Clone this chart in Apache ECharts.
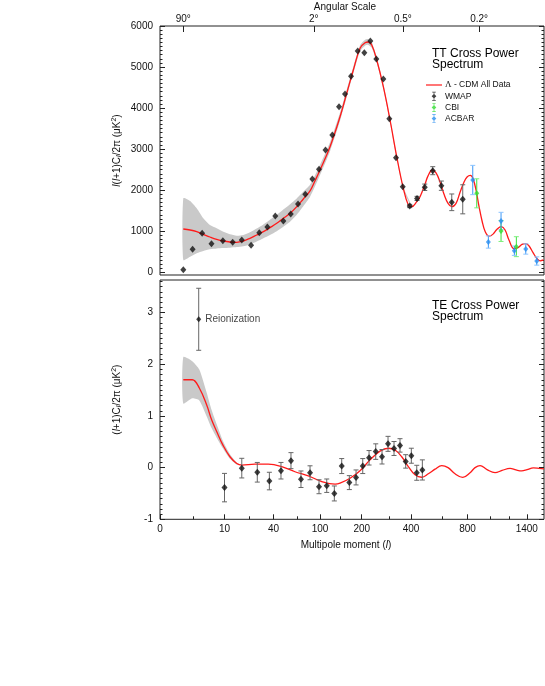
<!DOCTYPE html>
<html>
<head>
<meta charset="utf-8">
<script src="https://cdn.jsdelivr.net/npm/echarts@6/dist/echarts.min.js"></script>
<style>
    html, body { margin: 0; padding: 0; background: #fff; }
    #chart { width: 545px; height: 686px; }
</style>
</head>
<body>
<div id="chart"></div>
<script>
// ---- TT cross power spectrum ----
// WMAP binned points (multipole l, l(l+1)Cl/2pi in uK^2, error)
const ttL = [2, 3.4, 5.1, 7, 9.6, 13.4, 17.9, 23.3, 28.8, 34.9, 41.7, 49.9, 58.3, 67.4, 77.3, 87.7, 98.3, 110.6, 124.8, 139.9, 154.4, 169.9, 188.3, 208.3, 228.3, 249.6, 276.1, 300.3, 328.9, 359.5, 393.4, 433.6, 479.6, 531, 590.3, 668.3, 758]
const ttV = [60, 560, 950, 697, 770, 731, 787, 658, 965, 1104, 1371, 1250, 1420, 1664, 1900, 2273, 2509, 2979, 3345, 4034, 4343, 4775, 5391, 5350, 5635, 5196, 4709, 3742, 2792, 2085, 1615, 1800, 2071, 2475, 2110, 1705, 1778]
const ttErr = [0, 0, 0, 0, 0, 0, 0, 0, 0, 0, 0, 0, 0, 0, 0, 0, 0, 0, 0, 0, 0, 0, 0, 0, 0, 0, 0, 0, 0, 0, 40, 50, 78, 98, 113, 203, 354]
// CBI
const cbiL = [878.6, 1111, 1277.6]
const cbiV = [1924, 1006, 624]
const cbiErr = [354, 255, 243]
// ACBAR
const acbL = [843.8, 985, 1111, 1255, 1388, 1525]
const acbV = [2248, 738, 1250, 526, 568, 275]
const acbErr = [357, 150, 211, 114, 126, 101]
// Lambda-CDM model
const ttModelL = [2, 3.0, 4.1, 5.33, 6.68, 8.15, 9.71, 12.2, 15.3, 18.7, 22.6, 27.0, 31.8, 37.0, 43.1, 49.9, 57.5, 65.7, 74.5, 84.2, 91.9, 100, 119.9, 142.3, 158.7, 176.1, 195, 210.6, 221.5, 233.2, 251.1, 276.1, 303.2, 332.1, 362.3, 386.4, 403.8, 431.9, 451.1, 481.5, 500.2, 528.3, 553.1, 580.9, 609.8, 639.6, 668.3, 702.3, 735.2, 769.4, 795.6, 823.4, 846.4, 872.3, 899, 926.3, 953.8, 991.6, 1030.5, 1070.2, 1114.5, 1153.4, 1196.3, 1251.5, 1296.9, 1343.4, 1387.7, 1428, 1477.8, 1528.8, 1567.8, 1614.4]
const ttModelV = [1055, 1030, 990, 925, 860, 803, 762, 738, 731, 762, 828, 909, 990, 1087, 1193, 1315, 1437, 1598, 1786, 1981, 2230, 2492, 3060, 3790, 4361, 4928, 5457, 5593, 5610, 5537, 5172, 4522, 3710, 2816, 2046, 1639, 1598, 1720, 1842, 2150, 2350, 2492, 2420, 2200, 1900, 1680, 1600, 1680, 1950, 2200, 2320, 2360, 2280, 2000, 1600, 1250, 1000, 880, 930, 1050, 1111, 1030, 780, 576, 600, 680, 700, 640, 480, 330, 279, 300]
// cosmic variance band
const ttBandL = [2, 3.0, 4.1, 5.33, 6.68, 8.15, 9.71, 12.2, 15.3, 18.7, 22.6, 27.0, 31.8, 37.0, 43.1, 49.9, 57.5, 65.7, 74.5, 84.2, 100, 119.9, 142.3, 176.1, 195, 210.6, 221.5, 233.2, 251.1, 276.1, 303.2, 332.1, 362.3, 403.8]
const ttBandHi = [1803, 1737, 1559, 1315, 1152, 1072, 989, 926, 892, 909, 975, 1065, 1165, 1280, 1400, 1530, 1660, 1800, 1960, 2130, 2620, 3170, 3890, 5010, 5530, 5665, 5680, 5605, 5235, 4580, 3760, 2860, 2080, 1625]
const ttBandLo = [300, 380, 463, 519, 560, 580, 590, 600, 615, 635, 680, 750, 830, 910, 1000, 1110, 1230, 1400, 1610, 1840, 2370, 2950, 3690, 4850, 5385, 5520, 5540, 5470, 5110, 4465, 3660, 2775, 2012, 1571]

// ---- TE cross power spectrum ----
const teL = [10, 17.9, 27.4, 36.5, 47.4, 58.6, 71.3, 84.2, 98.3, 113.1, 129.2, 146.3, 165.4, 183.6, 203.2, 223.9, 247.4, 271, 294.9, 320.2, 346.9, 373.7, 401.6, 431.9, 464.9]
const teV = [-0.387, -0.01, -0.09, -0.26, -0.06, 0.135, -0.225, -0.1, -0.37, -0.35, -0.5, 0.03, -0.29, -0.19, 0.03, 0.19, 0.31, 0.21, 0.46, 0.37, 0.43, 0.12, 0.23, -0.1, -0.045]
const teErr = [0.275, 0.19, 0.19, 0.17, 0.16, 0.155, 0.16, 0.135, 0.135, 0.13, 0.145, 0.145, 0.135, 0.145, 0.145, 0.14, 0.15, 0.14, 0.145, 0.135, 0.13, 0.13, 0.145, 0.145, 0.195]
const reionL = [4.46]
const reionV = [2.87]
const reionErr = [0.6]
const teModelL = [2, 3.35, 4.57, 6.0, 7.05, 8.15, 9.71, 12.2, 15.3, 17.9, 25.8, 35.6, 48.2, 63.5, 81.6, 103.2, 130.8, 142.3, 167.3, 195, 227.2, 263.3, 296.2, 324.6, 354.8, 386.4, 422.2, 461.3, 502.2, 546.3, 593.1, 639.6, 694.2, 758, 820.8, 863.7, 908.1, 972.6, 1050.2, 1121.5, 1207, 1274, 1340.4, 1403.7, 1481.6, 1555, 1620]
const teModelV = [1.70, 1.70, 1.54, 1.21, 0.92, 0.70, 0.42, 0.21, 0.08, 0.05, 0.066, 0.066, 0.02, -0.08, -0.16, -0.27, -0.32, -0.30, -0.205, -0.06, 0.15, 0.32, 0.375, 0.34, 0.21, 0.02, -0.14, -0.186, -0.12, -0.03, 0.04, 0.0, -0.12, -0.19, -0.1, 0.0, 0.04, -0.04, -0.097, -0.055, -0.013, -0.045, -0.064, -0.04, -0.006, -0.015, -0.025]
const teBandL = [2, 3.35, 4.57, 6.0, 7.05, 8.15, 9.71, 12.2, 15.3, 17.9]
const teBandHi = [2.14, 2.06, 1.90, 1.45, 1.11, 0.84, 0.50, 0.26, 0.10, 0.05]
const teBandLo = [1.24, 1.34, 1.30, 0.99, 0.76, 0.58, 0.36, 0.17, 0.06, 0.05]

// ---- axis ticks ----
const lTicks = [0, 10, 40, 100, 200, 400, 800, 1400]
const lMinorTicks = [3.5, 22, 66, 142, 300, 600, 1000, 1200]
const angTicks = [90, 2, 0.5, 0.2]  // degrees, l ~ 180/theta
const L_MAX = 1620

// multipole axis warp: power law between anchor multipoles
const warpL = [0, 2, 10, 40, 100, 200, 400, 800, 1400]
const warpX = [0, 23.3, 64.5, 113.5, 160, 201.7, 251, 307.5, 366.7]
function xs(l) {
    if (l <= warpL[1]) return l / warpL[1] * warpX[1]
    let i = 1
    while (i < warpL.length - 2 && l > warpL[i + 1]) i++
    const b = Math.log(warpX[i + 1] / warpX[i]) / Math.log(warpL[i + 1] / warpL[i])
    return warpX[i] * Math.pow(l / warpL[i], b)
}
const X_MAX = xs(L_MAX)

const FONT = 'Liberation Sans'
const chart = echarts.init(document.getElementById('chart'))

//误差棒
function errorBars(color, capColor) {
    return function (params, api) {
        const e = api.value(2)
        if (!e) return null
        const x = api.value(0), y = api.value(1)
        const top = api.coord([x, y + e])
        const bot = api.coord([x, y - e])
        const st = {stroke: color, lineWidth: 1}
        const cs = {stroke: capColor || color, lineWidth: 1}
        return {
            type: 'group',
            children: [
                {type: 'line', shape: {x1: top[0], y1: top[1], x2: bot[0], y2: bot[1]}, style: st},
                {type: 'line', shape: {x1: top[0] - 2.5, y1: top[1], x2: top[0] + 2.5, y2: top[1]}, style: cs},
                {type: 'line', shape: {x1: bot[0] - 2.5, y1: bot[1], x2: bot[0] + 2.5, y2: bot[1]}, style: cs}
            ]
        }
    }
}
//灰色带
function band(L, lo, hi) {
    return function (params, api) {
        if (params.dataIndex !== 0) return null
        const pts = []
        for (let i = 0; i < L.length; i++) pts.push(api.coord([xs(L[i]), hi[i]]))
        for (let i = L.length - 1; i >= 0; i--) pts.push(api.coord([xs(L[i]), lo[i]]))
        return {type: 'polygon', shape: {points: pts, smooth: 0.2}, style: {fill: '#c9c9c9'}}
    }
}
const pts = (L, V, E) => L.map((l, i) => E ? [xs(l), V[i], E[i]] : [xs(l), V[i]])
const range = (a, b, step, div) => {
    const out = []
    for (let k = a; k <= b; k += step) out.push(k / div)
    return out
}

const hiddenX = {type: 'value', min: 0, max: X_MAX, axisLine: {show: false, onZero: false}, axisTick: {show: false}, axisLabel: {show: false}, splitLine: {show: false}}
function yAx(grid, pos, min, max, ticks, len, labels, name) {
    return {
        type: 'value', gridIndex: grid, position: pos, min: min, max: max,
        axisLine: {show: false, onZero: false}, splitLine: {show: false},
        axisTick: {show: true, inside: true, length: len, customValues: ticks, lineStyle: {color: '#222'}},
        axisLabel: labels ? {show: true, customValues: labels, margin: 7, color: '#111', fontSize: 10, fontFamily: FONT, formatter: v => String(v)} : {show: false},
        name: name || '', nameLocation: 'middle', nameGap: 37, nameMoveOverlap: false,
        nameTextStyle: {color: '#111', fontSize: 10, fontFamily: FONT, rich: {
            i: {fontStyle: 'italic', fontSize: 10, fontFamily: FONT},
            s: {fontStyle: 'italic', fontSize: 7, fontFamily: FONT, padding: [5, 0, 0, 0]},
            p: {fontSize: 7, fontFamily: FONT, padding: [0, 0, 5, 0]}
        }}
    }
}
const lX = lTicks.map(xs)
const angX = angTicks.map(d => xs(180 / d))
const ttMajor = range(0, 6000, 1000, 1)
const ttMinor = range(0, 6000, 100, 1)
const teMajor = range(-1, 3, 1, 1)
const teMinor = range(-10, 36, 1, 10)
const errIcon = 'path://M4.6,0H5.4V10H4.6Z M3,0H7V0.8H3Z M3,9.2H7V10H3Z M5,2.4L7.6,5L5,7.6L2.4,5Z'

const option = {
    animation: false,
    backgroundColor: '#fff',
    grid: [
        {left: 160, right: 1, top: 26, height: 249, show: true, borderColor: '#222', borderWidth: 1},
        {left: 160, right: 1, top: 280, height: 239.3, show: true, borderColor: '#222', borderWidth: 1}
    ],
    title: [
        {text: 'TT Cross Power\nSpectrum', left: 427, top: 43, textStyle: {fontSize: 12, fontWeight: 'normal', lineHeight: 11, color: '#000', fontFamily: FONT}},
        {text: 'TE Cross Power\nSpectrum', left: 427, top: 295, textStyle: {fontSize: 12, fontWeight: 'normal', lineHeight: 11, color: '#000', fontFamily: FONT}}
    ],
    legend: {
        orient: 'vertical', left: 426, top: 80.5, padding: 0, itemWidth: 16, itemHeight: 9, itemGap: 2.2,
        data: [
            {name: 'Λ - CDM All Data', icon: 'path://M0,4.4H16V5.6H0Z'},
            {name: 'WMAP', icon: errIcon},
            {name: 'CBI', icon: errIcon},
            {name: 'ACBAR', icon: errIcon}
        ],
        formatter: n => n.charAt(0) === 'Λ' ? '{g|Λ}' + n.slice(1) : n,
        textStyle: {fontSize: 8.5, color: '#111', fontFamily: FONT, padding: [0, 0, 0, -2],
            rich: {g: {fontFamily: 'Liberation Serif', fontSize: 9}}}
    },
    xAxis: [
        Object.assign({}, hiddenX, {gridIndex: 0, position: 'bottom'}),
        Object.assign({}, hiddenX, {
            gridIndex: 0, position: 'top',
            axisTick: {show: true, inside: true, length: 6, customValues: angX, lineStyle: {color: '#222'}},
            axisLabel: {show: true, customValues: angX, margin: 2, color: '#111', fontSize: 10, fontFamily: FONT,
                formatter: v => angTicks[angX.findIndex(a => Math.abs(a - v) < 1e-6)] + '°'},
            name: 'Angular Scale', nameLocation: 'middle', nameGap: 14,
            nameTextStyle: {color: '#111', fontSize: 10, fontFamily: FONT, padding: [0, 14, 0, 0]}
        }),
        Object.assign({}, hiddenX, {
            gridIndex: 1, position: 'bottom',
            axisTick: {show: true, inside: true, length: 5, customValues: lX, lineStyle: {color: '#222'}},
            axisLabel: {show: true, customValues: lX, margin: 5, color: '#111', fontSize: 10, fontFamily: FONT,
                formatter: v => String(lTicks[lX.findIndex(a => Math.abs(a - v) < 1e-6)])},
            name: 'Multipole moment ({i|l})', nameLocation: 'middle', nameGap: 21,
            nameTextStyle: {color: '#111', fontSize: 10, fontFamily: FONT, padding: [0, 12, 0, 0],
                rich: {i: {fontStyle: 'italic', fontSize: 10, fontFamily: FONT}}}
        }),
        Object.assign({}, hiddenX, {
            gridIndex: 1, position: 'bottom',
            axisTick: {show: true, inside: true, length: 3, customValues: lMinorTicks.map(xs), lineStyle: {color: '#222'}}
        })
    ],
    yAxis: [
        yAx(0, 'left', -66, 6000, ttMajor, 5, ttMajor, '{i|l}({i|l}+1)C{s|l}/2π (μK{p|2})'),
        yAx(0, 'left', -66, 6000, ttMinor, 2.5),
        yAx(0, 'right', -66, 6000, ttMajor, 5),
        yAx(0, 'right', -66, 6000, ttMinor, 2.5),
        yAx(1, 'left', -1, 3.63, teMajor, 5, teMajor, '({i|l}+1)C{s|l}/2π (μK{p|2})'),
        yAx(1, 'left', -1, 3.63, teMinor, 2.5),
        yAx(1, 'right', -1, 3.63, teMajor, 5),
        yAx(1, 'right', -1, 3.63, teMinor, 2.5)
    ],
    series: [
        // TT
        {type: 'custom', xAxisIndex: 0, yAxisIndex: 0, z: 1, silent: true,
            renderItem: band(ttBandL, ttBandLo, ttBandHi), data: pts(ttBandL, ttBandHi)},
        {name: 'Λ - CDM All Data', type: 'line', xAxisIndex: 0, yAxisIndex: 0, z: 2, smooth: 0.4, symbol: 'none',
            lineStyle: {color: '#ff1a1a', width: 1.3}, itemStyle: {color: '#ff1a1a'}, data: pts(ttModelL, ttModelV)},
        {type: 'custom', xAxisIndex: 0, yAxisIndex: 0, z: 3, renderItem: errorBars('#666'), data: pts(ttL, ttV, ttErr)},
        {type: 'custom', xAxisIndex: 0, yAxisIndex: 0, z: 3, renderItem: errorBars('#3de03d', '#7cf07c'), data: pts(cbiL, cbiV, cbiErr)},
        {type: 'custom', xAxisIndex: 0, yAxisIndex: 0, z: 3, renderItem: errorBars('#3a96f5', '#8cc4ff'), data: pts(acbL, acbV, acbErr)},
        {name: 'WMAP', type: 'scatter', xAxisIndex: 0, yAxisIndex: 0, z: 4, symbol: 'diamond', symbolSize: [6, 7],
            itemStyle: {color: '#111'}, data: pts(ttL, ttV)},
        {name: 'CBI', type: 'scatter', xAxisIndex: 0, yAxisIndex: 0, z: 4, symbol: 'diamond', symbolSize: [5, 6],
            itemStyle: {color: '#33dd33'}, data: pts(cbiL, cbiV)},
        {name: 'ACBAR', type: 'scatter', xAxisIndex: 0, yAxisIndex: 0, z: 4, symbol: 'diamond', symbolSize: [5, 6],
            itemStyle: {color: '#2a8ef0'}, data: pts(acbL, acbV)},
        // TE
        {type: 'custom', xAxisIndex: 2, yAxisIndex: 4, z: 1, silent: true,
            renderItem: band(teBandL, teBandLo, teBandHi), data: pts(teBandL, teBandHi)},
        {type: 'line', xAxisIndex: 2, yAxisIndex: 4, z: 2, smooth: 0.4, symbol: 'none',
            lineStyle: {color: '#ff1a1a', width: 1.3}, data: pts(teModelL, teModelV)},
        {type: 'custom', xAxisIndex: 2, yAxisIndex: 4, z: 3, renderItem: errorBars('#666'), data: pts(teL, teV, teErr)},
        {type: 'custom', xAxisIndex: 2, yAxisIndex: 4, z: 3, renderItem: errorBars('#666'), data: pts(reionL, reionV, reionErr)},
        {name: 'WMAP', type: 'scatter', xAxisIndex: 2, yAxisIndex: 4, z: 4, symbol: 'diamond', symbolSize: [6, 7],
            itemStyle: {color: '#111'}, data: pts(teL, teV)},
        {name: 'WMAP', type: 'scatter', xAxisIndex: 2, yAxisIndex: 4, z: 4, symbol: 'diamond', symbolSize: [5, 6],
            itemStyle: {color: '#111'}, data: pts(reionL, reionV),
            label: {show: true, position: 'right', distance: 4, formatter: 'Reionization', color: '#111', fontSize: 10, fontFamily: FONT}}
    ]
}
chart.setOption(option)
</script>
</body>
</html>
